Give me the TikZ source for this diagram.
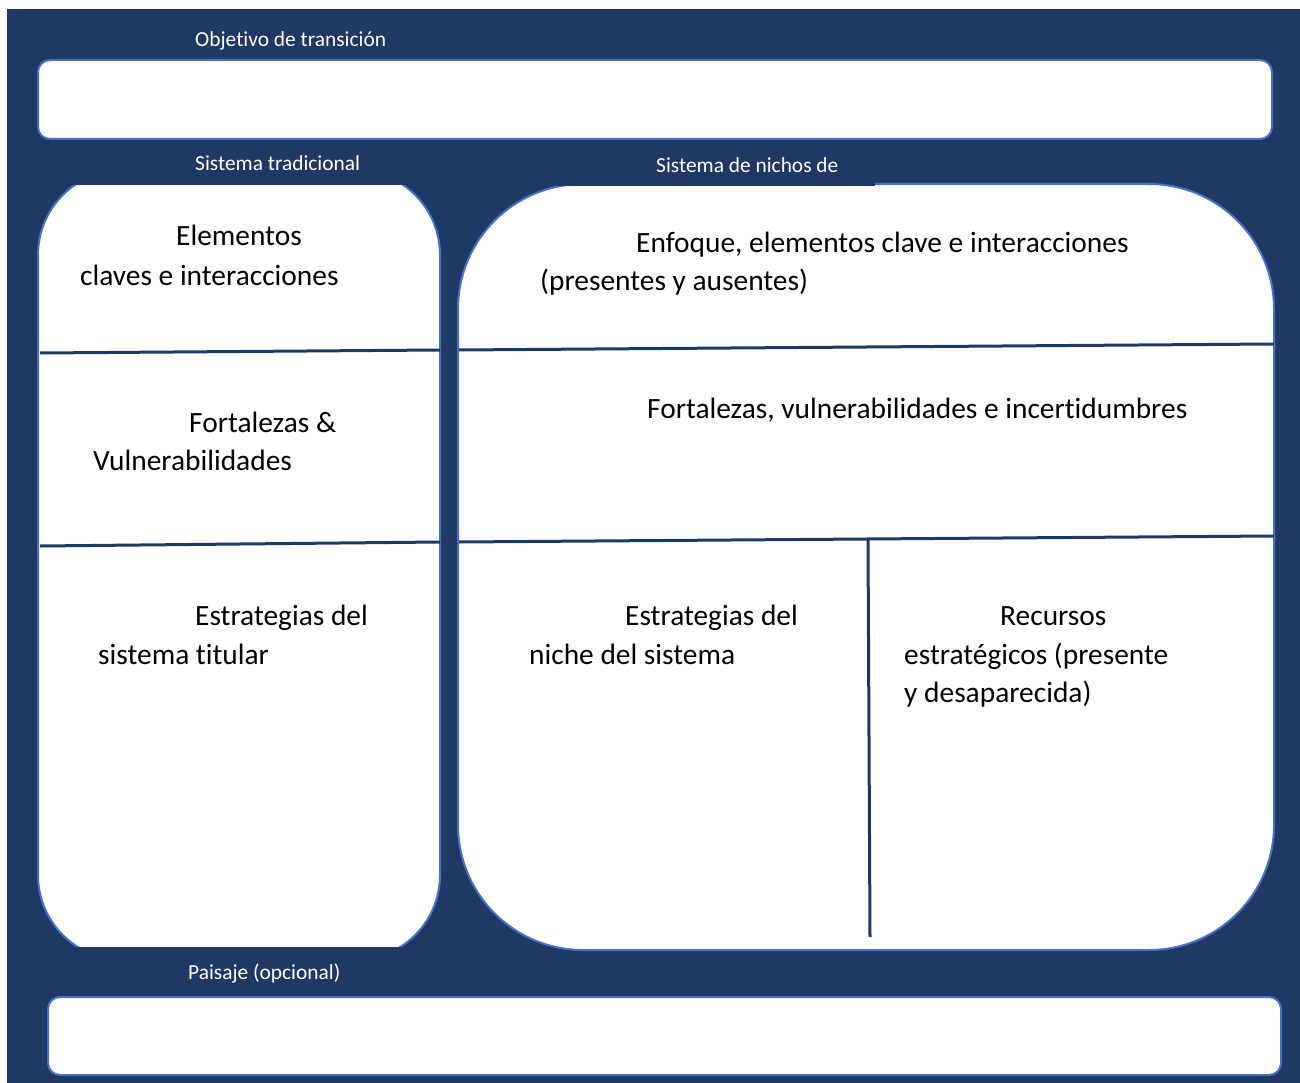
\documentclass[tikz,border=0pt]{standalone}
\usepackage{fontspec}
\setmainfont{Carlito}[Ligatures={NoCommon}]
\usepackage{tikz}
\definecolor{panelNavy}{RGB}{32, 56, 100}
\definecolor{edgeBlue}{RGB}{68, 114, 196}

\tikzset{
  panel/.style={fill=white, draw=edgeBlue, line width=2pt},
  divider/.style={draw=panelNavy, line width=3pt},
  tag/.style={text=white, inner sep=0pt, anchor=base west, font=\fontsize{21.4}{25}\selectfont},
  body/.style={text=black, inner sep=0pt, anchor=base west, font=\fontsize{29.4}{35}\selectfont}
}

\begin{document}
\begin{tikzpicture}[x=1pt, y=-1pt]
  \useasboundingbox (0,0) rectangle (1300,1083);
  \fill[white] (0,0) rectangle (1300,1083);
  \fill[panelNavy] (7,9) rectangle (1300,1083);

  % top and bottom bars
  \draw[panel, rounded corners=12pt] (38,60) rectangle (1272,139);
  \draw[panel, rounded corners=12pt] (48,997) rectangle (1281,1075);

  % the two columns
  \draw[panel, rounded corners=85pt] (38,170) rectangle (440,960);
  \draw[panel, rounded corners=125pt] (458,184) rectangle (1274,950);

  % label strips hide the tops of the columns
  \fill[panelNavy] (30,145) rectangle (450,185);
  \fill[panelNavy] (450,145) rectangle (875,186);
  \fill[panelNavy] (30,947) rectangle (450,990);

  % rows and columns inside
  \draw[divider] (40,353) -- (440,350);
  \draw[divider] (40,546) -- (440,542);
  \draw[divider] (459,350) -- (1274,344);
  \draw[divider] (459,542) -- (1274,536);
  \draw[divider] (868,540) -- (870,937);

  % strip labels
  \node[tag] (objetivo) at (195,47) {Objetivo de transición};
  \node[tag] (tradicional) at (195,171) {Sistema tradicional};
  \node[tag] (nichos) at (656,173) {Sistema de nichos de};
  \node[tag] (paisaje) at (188,979) {Paisaje (opcional)};

  % left column
  \node[body] (elemA) at (176,246) {Elementos};
  \node[body] (elemB) at (80,285) {claves e interacciones};
  \node[body] (fortA) at (189,432) {Fortalezas \&};
  \node[body] (fortB) at (93,470) {Vulnerabilidades};
  \node[body] (estA) at (195,625) {Estrategias del};
  \node[body] (estB) at (98,664) {sistema titular};

  % right column
  \node[body] (enfA) at (636,252) {Enfoque, elementos clave e interacciones};
  \node[body] (enfB) at (540,290) {(presentes y ausentes)};
  \node[body] (fvi) at (647,418) {Fortalezas, vulnerabilidades e incertidumbres};
  \node[body] (nicA) at (625,625) {Estrategias del};
  \node[body] (nicB) at (529,664) {niche del sistema};
  \node[body] (recA) at (1000,625) {Recursos};
  \node[body] (recB) at (904,664) {estratégicos (presente};
  \node[body] (recC) at (904,702) {y desaparecida)};
\end{tikzpicture}
\end{document}
